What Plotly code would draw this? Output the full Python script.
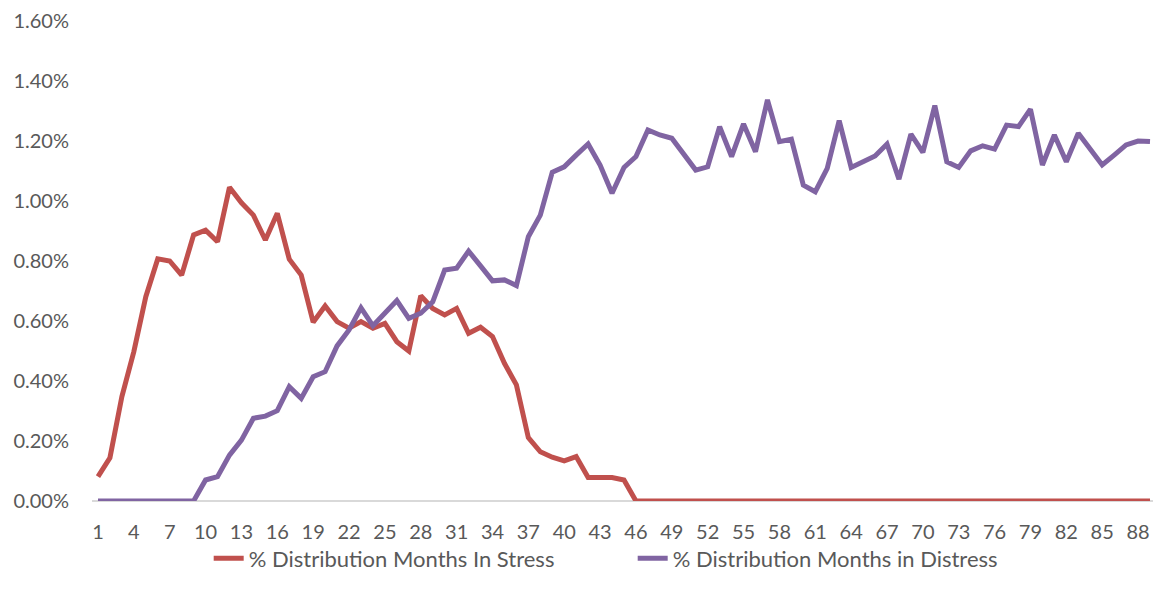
import plotly.graph_objects as go

months = list(range(1, 90))

stress_pct = [
    0.081, 0.144, 0.348, 0.498, 0.681, 0.807, 0.800, 0.753, 0.887, 0.903,
    0.864, 1.046, 0.994, 0.953, 0.870, 0.959, 0.806, 0.753, 0.596, 0.650,
    0.598, 0.576, 0.598, 0.576, 0.592, 0.531, 0.500, 0.684, 0.642, 0.620,
    0.642, 0.559, 0.579, 0.548, 0.459, 0.387, 0.211, 0.164, 0.146, 0.134,
    0.148, 0.078, 0.078, 0.078, 0.070, 0.0, 0.0, 0.0, 0.0, 0.0,
    0.0, 0.0, 0.0, 0.0, 0.0, 0.0, 0.0, 0.0, 0.0, 0.0,
    0.0, 0.0, 0.0, 0.0, 0.0, 0.0, 0.0, 0.0, 0.0, 0.0,
    0.0, 0.0, 0.0, 0.0, 0.0, 0.0, 0.0, 0.0, 0.0, 0.0,
    0.0, 0.0, 0.0, 0.0, 0.0, 0.0, 0.0, 0.0, 0.0,
]

distress_pct = [
    0.0, 0.0, 0.0, 0.0, 0.0, 0.0, 0.0, 0.0, 0.0, 0.070,
    0.081, 0.153, 0.203, 0.276, 0.283, 0.301, 0.381, 0.342, 0.414, 0.431,
    0.517, 0.570, 0.644, 0.584, 0.626, 0.668, 0.609, 0.626, 0.664, 0.770,
    0.776, 0.833, 0.784, 0.734, 0.737, 0.718, 0.881, 0.953, 1.096, 1.114,
    1.153, 1.190, 1.120, 1.026, 1.112, 1.148, 1.237, 1.220, 1.209, 1.159,
    1.103, 1.114, 1.248, 1.148, 1.257, 1.164, 1.337, 1.198, 1.206, 1.053,
    1.031, 1.109, 1.268, 1.112, 1.131, 1.150, 1.190, 1.073, 1.223, 1.162,
    1.318, 1.131, 1.112, 1.167, 1.184, 1.173, 1.253, 1.248, 1.306, 1.120,
    1.220, 1.131, 1.226, 1.170, 1.120, 1.153, 1.187, 1.200, 1.198,
]

x_ticks = list(range(1, 90, 3))
y_ticks = [0, 0.002, 0.004, 0.006, 0.008, 0.010, 0.012, 0.014, 0.016]

stress = [v / 100 for v in stress_pct]
distress = [v / 100 for v in distress_pct]

FONT = "Lato, 'Open Sans', sans-serif"
GREY = "#595959"

fig = go.Figure()
fig.add_trace(go.Scatter(
    x=months, y=stress, mode="lines", name="% Distribution Months In Stress",
    line=dict(color="#C0504D", width=5, shape="linear"),
))
fig.add_trace(go.Scatter(
    x=months, y=distress, mode="lines", name="% Distribution Months in Distress",
    line=dict(color="#8064A2", width=5, shape="linear"),
))

fig.update_layout(
    width=1153, height=598,
    margin=dict(l=92, r=0, t=21, b=97, autoexpand=False),
    paper_bgcolor="white", plot_bgcolor="white",
    font=dict(family=FONT, size=20, color=GREY),
    showlegend=True,
    legend=dict(
        orientation="h", xref="container", yref="container",
        x=0.181, xanchor="left", y=0.066, yanchor="middle",
        font=dict(family=FONT, size=22, color=GREY),
        entrywidth=379, entrywidthmode="pixels",
        traceorder="normal", bgcolor="rgba(0,0,0,0)",
    ),
    xaxis=dict(
        range=[0.5, 89.25], tickmode="array", tickvals=x_ticks,
        ticktext=[str(t) for t in x_ticks],
        showgrid=False, zeroline=False, showline=False, automargin=False,
        ticks="", ticklabelstandoff=17,
        tickfont=dict(family=FONT, size=20, color=GREY),
    ),
    yaxis=dict(
        range=[0, 0.016], tickmode="array", tickvals=y_ticks,
        tickformat=".2%", showgrid=False, zeroline=True,
        zerolinecolor="#D9D9D9", zerolinewidth=1.5, automargin=False,
        showline=False, ticks="", ticklabelstandoff=22,
        tickfont=dict(family=FONT, size=20, color=GREY),
    ),
)

fig.write_html(
    "out.html",
    config={"displayModeBar": False},
    post_script="document.body.style.margin='0';document.body.style.padding='0';",
)
